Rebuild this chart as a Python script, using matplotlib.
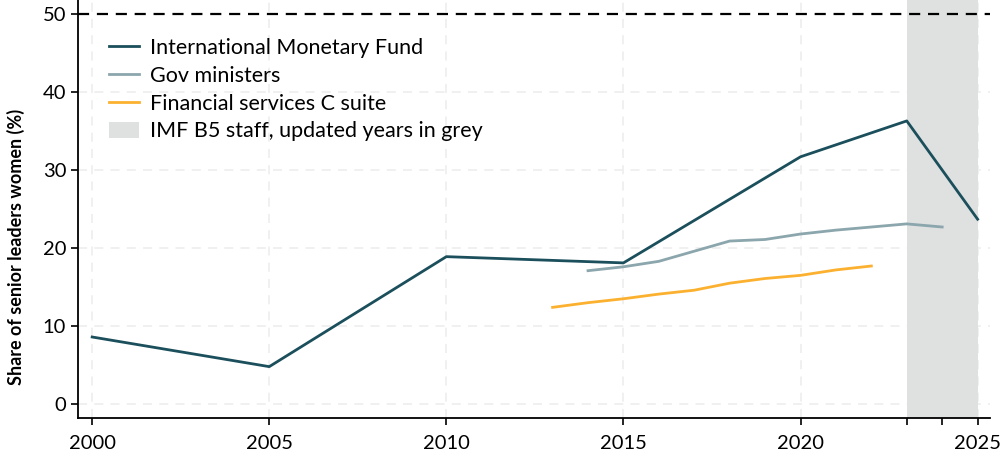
import matplotlib.pyplot as plt

# data
imf_years = [2000, 2005, 2010, 2015, 2020, 2023, 2025]
imf_share = [8.6, 4.8, 18.9, 18.1, 31.7, 36.3, 23.7]

gov_years = [2014, 2015, 2016, 2017, 2018, 2019, 2020, 2021, 2022, 2023, 2024]
gov_share = [17.1, 17.6, 18.3, 19.6, 20.9, 21.1, 21.8, 22.3, 22.7, 23.1, 22.7]

fin_years = [2013, 2014, 2015, 2016, 2017, 2018, 2019, 2020, 2021, 2022]
fin_share = [12.4, 13.0, 13.5, 14.1, 14.6, 15.5, 16.1, 16.5, 17.2, 17.7]

grey_start, grey_end = 2023, 2025
parity = 50

plt.rcParams['font.family'] = ['Lato', 'DejaVu Sans']

fig = plt.figure(figsize=(10, 4.61), dpi=100)
ax = fig.add_axes([0.078, 0.093, 0.912, 0.907])

ax.axvspan(grey_start, grey_end, color='#dfe1e1', lw=0, zorder=1,
           label='IMF B5 staff, updated years in grey')

for x in range(2000, 2026, 5):
    ax.axvline(x, color='#efefef', lw=1.3, ls=(0, (5, 4)), zorder=0)
for y in range(0, 50, 10):
    ax.axhline(y, color='#efefef', lw=1.3, ls=(0, (5, 4)), zorder=0)
ax.axhline(parity, color='black', lw=1.6, ls=(0, (5, 3.5)), zorder=2)

ax.plot(imf_years, imf_share, color='#1b4f5c', lw=2.0, zorder=4,
        label='International Monetary Fund')
ax.plot(gov_years, gov_share, color='#8ba6ac', lw=2.0, zorder=3,
        label='Gov ministers')
ax.plot(fin_years, fin_share, color='#fbb12f', lw=2.0, zorder=3,
        label='Financial services C suite')

ax.set_xlim(1999.6, 2025.35)
ax.set_ylim(-1.8, 51.8)
ax.set_xticks(range(2000, 2026, 5))
ax.set_xticks([2023, 2024], minor=True)
ax.set_yticks(range(0, 51, 10))
ax.tick_params(axis='both', which='both', labelsize=14.5, length=5, width=1.2)
ax.tick_params(axis='x', pad=7)
for s in ['top', 'right']:
    ax.spines[s].set_visible(False)
for s in ['left', 'bottom']:
    ax.spines[s].set_linewidth(1.3)

ax.set_ylabel('Share of senior leaders women (%)', fontsize=13,
              fontweight='bold')
ax.yaxis.set_label_coords(-0.058, 0.41)

h, lab = ax.get_legend_handles_labels()
order = [1, 2, 3, 0]
ax.legend([h[i] for i in order], [lab[i] for i in order], loc='upper left',
          bbox_to_anchor=(0.013, 0.955), frameon=False, fontsize=15.5,
          handlelength=1.4, handleheight=0.8, handletextpad=0.5,
          labelspacing=0.36)

fig.savefig('out.png', dpi=100)
